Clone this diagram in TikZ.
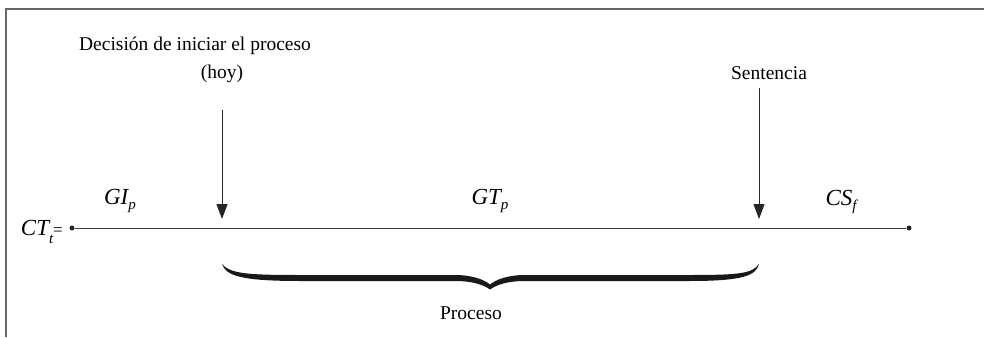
\documentclass[tikz,border=0pt]{standalone}
\usepackage{fontspec}
\setmainfont{Liberation Serif}
\usetikzlibrary{arrows.meta}
\begin{document}
\begin{tikzpicture}[x=1pt,y=-1pt,
  lbl/.style={font=\fontsize{19.5}{22}\selectfont, inner sep=0pt, align=center},
  var/.style={font=\fontsize{23}{25}\selectfont\itshape, inner sep=0pt},
  dotnode/.style={circle, fill=black!85, inner sep=0pt, minimum size=5pt},
  timeline/.style={draw=black!75, line width=1pt},
  downarrow/.style={draw=black!85, line width=1pt, -{Triangle[width=11pt,length=15pt]}},
  frame/.style={draw=black!60, line width=1.6pt}]
\useasboundingbox (0,0) rectangle (984,337);
\fill[white] (0,0) rectangle (984,337);
% frame (top and left edges)
\draw[frame] (984,9) -- (6,9) -- (6,337);
% texts
\node[lbl] (dec) at (195,46) {Decisión de iniciar el proceso};
\node[lbl] (hoy) at (222,74) {(hoy)};
\node[lbl] (sen) at (769,73) {Sentencia};
\node[lbl] (pro) at (471,313) {Proceso};
\newcommand{\subsc}[1]{\raisebox{-0.55ex}{\fontsize{15}{15}\selectfont #1}}
\node[var] (gi) at (120,201) {GI\subsc{p}};
\node[var] (gt) at (490,201) {GT\subsc{p}};
\node[var] (cs) at (841,202) {CS\subsc{f}};
\node[var,anchor=east] (ct) at (63,232) {CT\raisebox{-0.7ex}{\fontsize{15}{15}\selectfont t}\upshape{\fontsize{17}{17}\selectfont=}};
% timeline
\node[dotnode] (l) at (72,228) {};
\node[dotnode] (r) at (909,228) {};
\draw[timeline] (l) -- (r);
% arrows
\coordinate (a1s) at (222,110);
\coordinate (a1e) at (222,219);
\coordinate (a2s) at (759,88);
\coordinate (a2e) at (759,219);
\draw[downarrow] (a1s) -- (a1e);
\draw[downarrow] (a2s) -- (a2e);
% brace
\fill[black!90]
  (222,264) .. controls (230,274) and (250,275) .. (300,275)
  -- (455,275) .. controls (472,275) and (484,279.5) .. (490,284.5)
  .. controls (496,279.5) and (508,275) .. (525,275)
  -- (690,275) .. controls (740,275) and (752,273.5) .. (759,264)
  .. controls (756,275) and (745,281) .. (690,281)
  -- (525,281) .. controls (508,281) and (497,284.5) .. (490,289.5)
  .. controls (483,284.5) and (472,281) .. (455,281)
  -- (300,281) .. controls (240,281) and (226,275.5) .. (222,264) -- cycle;
\end{tikzpicture}
\end{document}
